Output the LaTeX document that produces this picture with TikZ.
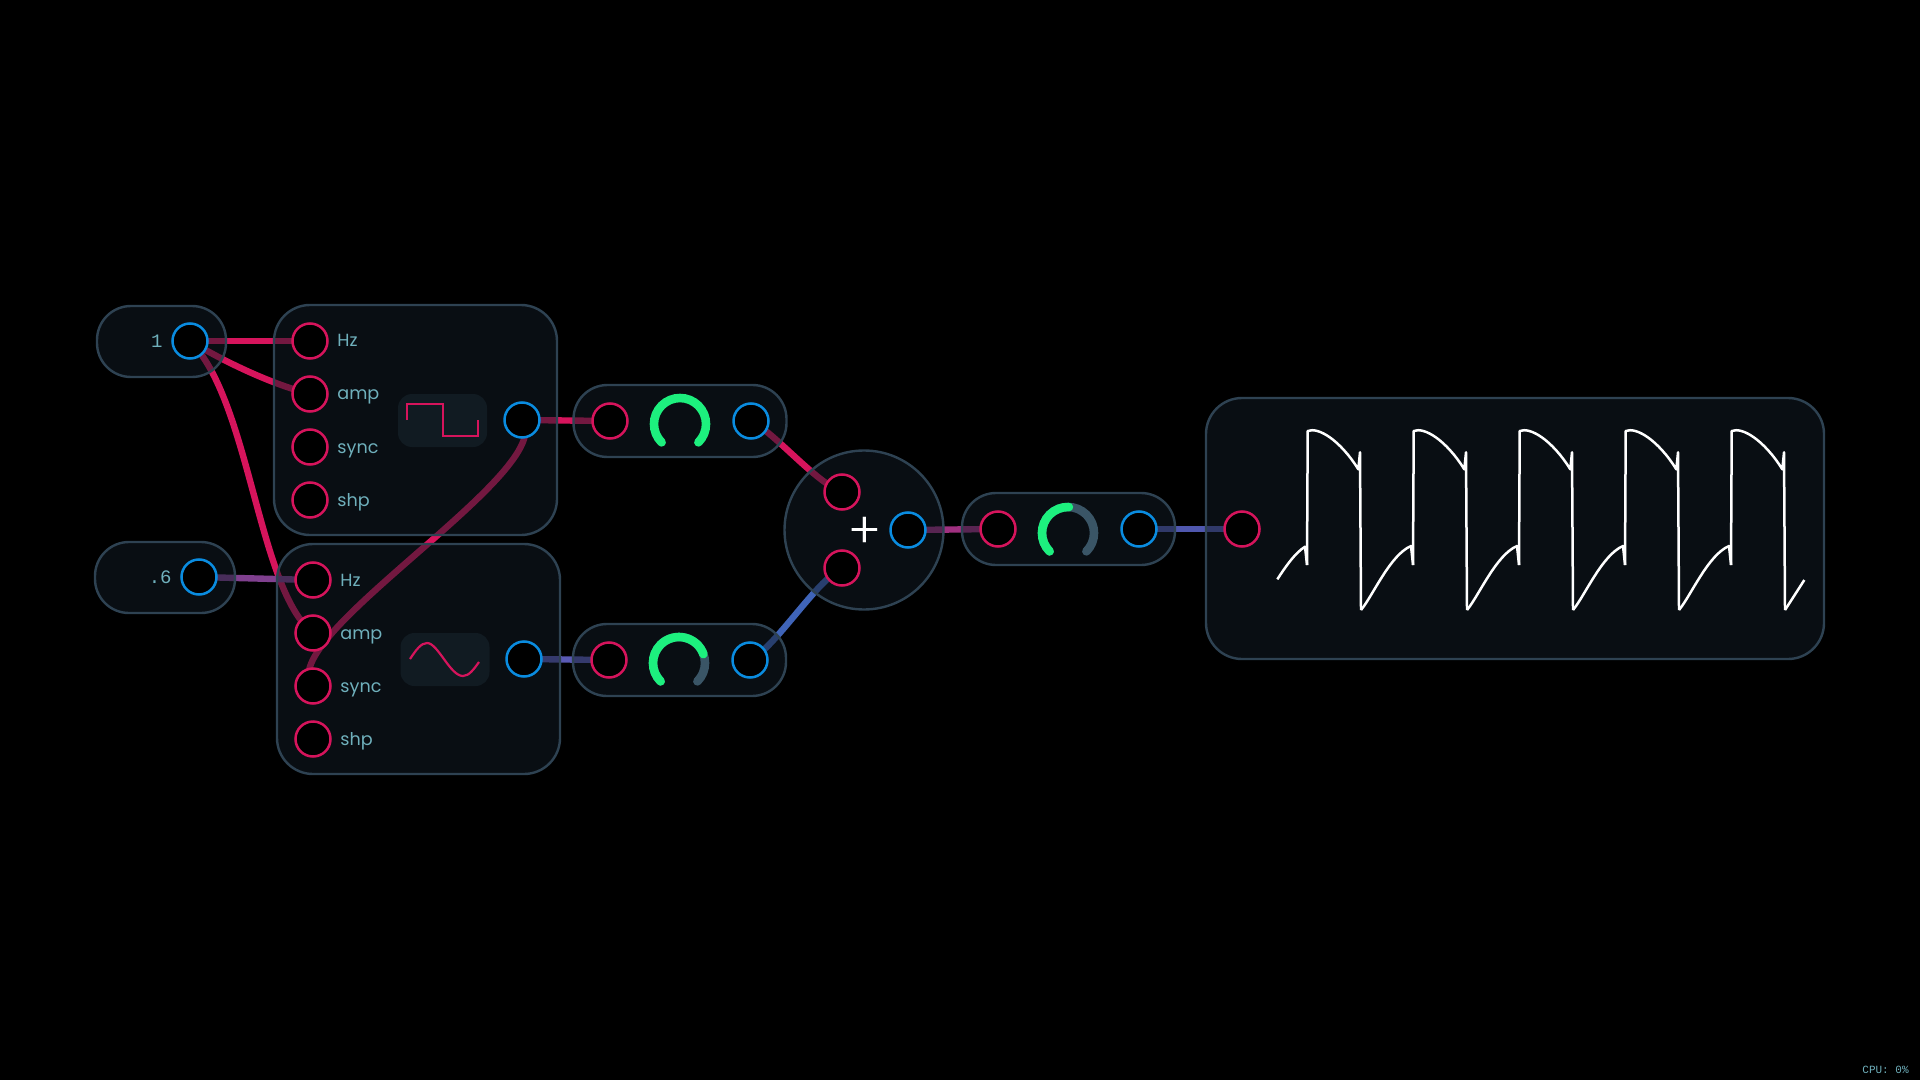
\documentclass[tikz,border=0pt]{standalone}
\usepackage{fontspec}
\setmainfont{Poppins}
\newfontfamily\plusfont{Poppins Light}
\newfontfamily\codefont{Liberation Mono}
\pgfdeclarelayer{wires}
\pgfdeclarelayer{panels}
\pgfsetlayers{wires,panels,main}
\definecolor{pinkc}{HTML}{D6145C}
\definecolor{bluec}{HTML}{0A8CE0}
\definecolor{edgec}{HTML}{2E4252}
\definecolor{panelc}{HTML}{121C26}
\definecolor{labelc}{HTML}{6FB0BC}
\definecolor{greenc}{HTML}{1DF07E}
\definecolor{trackc}{HTML}{3A5566}
\definecolor{waveboxc}{HTML}{111B22}
\definecolor{purplew}{HTML}{80408F}
\definecolor{indigow}{HTML}{5A5AB5}
\definecolor{bluew}{HTML}{3F64B8}
\definecolor{magentaw}{HTML}{A03080}
\definecolor{navyw}{HTML}{4F57AE}
\tikzset{
  x=0.5pt,y=-0.5pt,
  panelbox/.style={draw=edgec,line width=1.2pt,fill=panelc,fill opacity=0.5,draw opacity=1,rectangle,inner sep=0pt},
  roundpanel/.style={panelbox,circle,minimum size=79.5pt},
  inport/.style={circle,draw=pinkc,fill=black,line width=1.25pt,minimum size=17.5pt,inner sep=0pt},
  outport/.style={circle,draw=bluec,fill=black,line width=1.25pt,minimum size=17.5pt,inner sep=0pt},
  wire/.style={line width=3.2pt},
  portlabel/.style={text=labelc,font=\fontsize{8.8pt}{10pt}\selectfont,anchor=base west,inner sep=0pt},
  valuelabel/.style={text=labelc,font=\codefont\fontsize{9.5pt}{10pt}\selectfont,anchor=base east,inner sep=0pt},
  wavebox/.style={rectangle,fill=waveboxc,rounded corners=7pt,inner sep=0pt,minimum width=44.5pt,minimum height=26.5pt},
  wavepath/.style={draw=pinkc,line width=1.1pt},
  knobtrack/.style={draw=trackc,line width=4.3pt,line cap=round},
  knobfill/.style={draw=greenc,line width=4.3pt,line cap=round},
  scopeline/.style={draw=white,line width=1.25pt,line join=round}
}
\begin{document}
\begin{tikzpicture}
\begin{pgfonlayer}{wires}
\fill[black] (0,0) rectangle (1920,1080);
\end{pgfonlayer}
\useasboundingbox (0,0) rectangle (1920,1080);

\begin{pgfonlayer}{panels}
\node[panelbox,rounded corners=17pt,minimum width=64.5pt,minimum height=35.5pt] (valA) at (161.5,341.5) {};
\node[panelbox,rounded corners=17pt,minimum width=70pt,minimum height=35.5pt] (valB) at (165,577.5) {};
\node[panelbox,rounded corners=18pt,minimum width=141.5pt,minimum height=115pt] (oscA) at (415.5,420) {};
\node[panelbox,rounded corners=18pt,minimum width=141.5pt,minimum height=115pt] (oscB) at (418.5,659) {};
\node[panelbox,rounded corners=17pt,minimum width=106.5pt,minimum height=36pt] (gainA) at (680,421) {};
\node[panelbox,rounded corners=17pt,minimum width=106.5pt,minimum height=36pt] (gainB) at (679.5,660) {};
\node[roundpanel] (mix) at (864,530) {};
\node[panelbox,rounded corners=17pt,minimum width=106.5pt,minimum height=36pt] (gainC) at (1068.5,529) {};
\node[panelbox,rounded corners=18pt,minimum width=309pt,minimum height=130.5pt] (scopeP) at (1515,528.5) {};
\end{pgfonlayer}

% value nodes
\node[outport] (vAo) at (190,341) {};
\node[outport] (vBo) at (199,577) {};
\node[valuelabel] (vAl) at (163,347.5) {1};
\node[valuelabel] (vBl) at (172,583) {.6};

% oscillator A
\node[inport] (aHz) at (310,341) {};
\node[inport] (aAmp) at (310,394) {};
\node[inport] (aSync) at (310,447) {};
\node[inport] (aShp) at (310,500) {};
\node[outport] (aOut) at (522,420) {};
\node[portlabel] (laHz) at (337,347) {Hz};
\node[portlabel] (laAmp) at (337,400) {amp};
\node[portlabel] (laSync) at (337,453) {sync};
\node[portlabel] (laShp) at (337,506) {shp};
\node[wavebox] (aWave) at (442.5,420.5) {};
\draw[wavepath] (407,420) |- (443,404) |- (478,436) -- (478,420);

% oscillator B
\node[inport] (bHz) at (313,580) {};
\node[inport] (bAmp) at (313,633) {};
\node[inport] (bSync) at (313,686) {};
\node[inport] (bShp) at (313,739) {};
\node[outport] (bOut) at (524,659) {};
\node[portlabel] (lbHz) at (340,586) {Hz};
\node[portlabel] (lbAmp) at (340,639) {amp};
\node[portlabel] (lbSync) at (340,692) {sync};
\node[portlabel] (lbShp) at (340,745) {shp};
\node[wavebox] (bWave) at (445,659.5) {};
\draw[wavepath] (410,659) .. controls (416,650) and (421,643) .. (427,643)
  .. controls (438,643) and (450,676) .. (463,676)
  .. controls (469,676) and (474,669) .. (479,662);

% gains
\node[inport] (gAi) at (610,421) {};
\node[outport] (gAo) at (751,421) {};
\node[inport] (gBi) at (609,660) {};
\node[outport] (gBo) at (750,660) {};
\node[inport] (gCi) at (998,529) {};
\node[outport] (gCo) at (1139,529) {};
\coordinate (kA) at (680,424);
\coordinate (kB) at (679,663);
\coordinate (kC) at (1068,533);
\draw[knobtrack] ([shift={(225:13pt)}]kB) arc[start angle=225,end angle=-45,radius=13pt];
\draw[knobtrack] ([shift={(225:13pt)}]kC) arc[start angle=225,end angle=-45,radius=13pt];
\draw[knobfill] ([shift={(225:13pt)}]kA) arc[start angle=225,end angle=-45,radius=13pt];
\draw[knobfill] ([shift={(225:13pt)}]kB) arc[start angle=225,end angle=20,radius=13pt];
\draw[knobfill] ([shift={(225:13pt)}]kC) arc[start angle=225,end angle=88,radius=13pt];

% mixer
\node[inport] (mA) at (842,492) {};
\node[inport] (mB) at (842,568) {};
\node[outport] (mO) at (908,530) {};
\node[text=white,inner sep=0pt,font=\plusfont\fontsize{25pt}{25pt}\selectfont] (plus) at (865,533) {+};

% scope
\foreach \k in {0,...,4} {
  \begin{scope}[shift={(\k*106,0)}]
    \draw[scopeline] (1307,565) -- (1307.7,431) .. controls (1318.3,426.7) and (1340,440) .. (1358.3,469.3) -- (1360,452.3) -- (1361,610);
  \end{scope}
}
\foreach \k in {0,...,3} {
  \begin{scope}[shift={(\k*106,0)}]
    \draw[scopeline] (1361,610) .. controls (1373.3,595) and (1390,555) .. (1411,546) -- (1413,565);
  \end{scope}
}
\draw[scopeline] (1277.3,579.3) .. controls (1286,566) and (1295,553) .. (1305,546.7) -- (1307,565);
\draw[scopeline] (1785,610) -- (1804.3,580);
\node[inport] (sI) at (1242,529) {};
\node[text=labelc,font=\codefont\fontsize{5.5pt}{6pt}\selectfont,anchor=base east,inner sep=0pt] (cpu) at (1909,1073) {CPU: 0\%};

% wires
\begin{pgfonlayer}{wires}
\draw[wire,draw=pinkc] (vAo.center) -- (aHz.center);
\draw[wire,draw=pinkc] (vAo.center) .. controls (230,365) and (275,385) .. (aAmp.center);
\draw[wire,draw=pinkc] (vAo.center) .. controls (250,400) and (258,590) .. (bAmp.center);
\draw[wire,draw=pinkc] (aOut.center) .. controls (560,470) and (270,640) .. (bSync.center);
\draw[wire,draw=purplew] (vBo.center) -- (bHz.center);
\draw[wire,draw=pinkc] (aOut.center) -- (gAi.center);
\draw[wire,draw=indigow] (bOut.center) -- (gBi.center);
\draw[wire,draw=pinkc] (gAo.center) .. controls (775,433) and (815,482) .. (mA.center);
\draw[wire,draw=bluew] (gBo.center) .. controls (775,648) and (815,582) .. (mB.center);
\draw[wire,draw=magentaw] (mO.center) -- (gCi.center);
\draw[wire,draw=navyw] (gCo.center) -- (sI.center);
\end{pgfonlayer}
\end{tikzpicture}
\end{document}
